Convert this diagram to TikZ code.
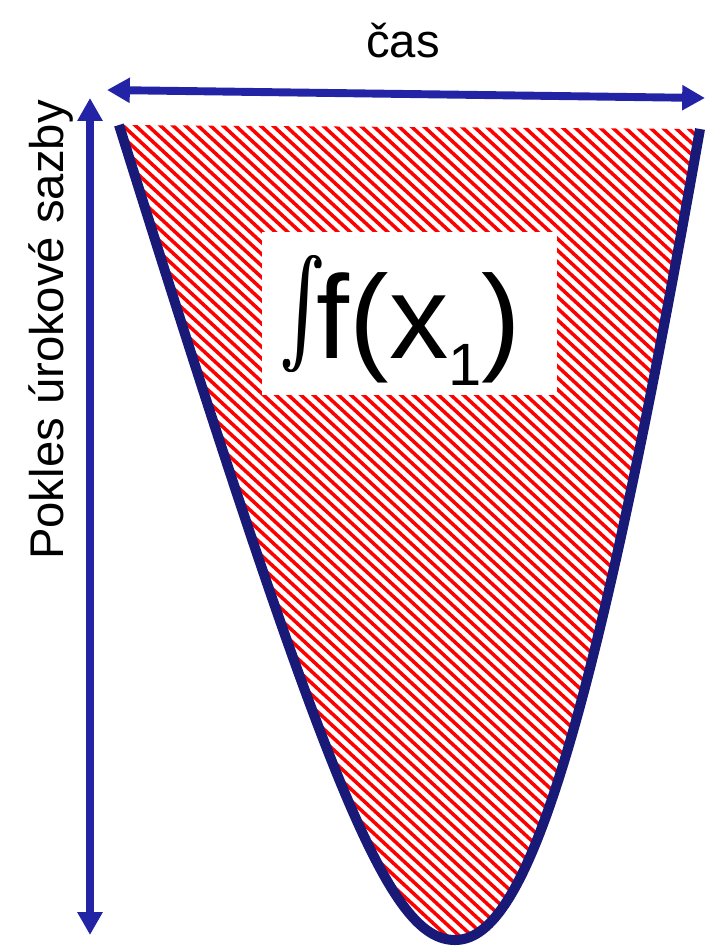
\documentclass[tikz,border=0pt]{standalone}
\usepackage{fontspec}
\usepackage{graphicx}
\setmainfont{Liberation Sans}
\usetikzlibrary{arrows.meta}
\definecolor{carrow}{RGB}{35,35,165}
\definecolor{ccurve}{RGB}{25,25,120}
\definecolor{chatch}{RGB}{255,0,0}
\newcommand{\bigint}{\raisebox{-12.5pt}{\scalebox{3.8}[6.0]{$\int$}}}

\begin{document}
\begin{tikzpicture}[x=0.02cm,y=-0.02cm,>={Triangle[length=13pt,width=13.6pt]}]
\useasboundingbox (0,0) rectangle (707,949);
% ===================== axes =====================
\coordinate (tleft) at (107,90);
\coordinate (tright) at (705,98);
\coordinate (rtop) at (90,98);
\coordinate (rbot) at (90,935);
\draw[<->,carrow,line width=4.5pt] (tleft) -- (tright);
\draw[<->,carrow,line width=4.5pt] (rtop) -- (rbot);
\node[anchor=base,inner sep=0pt,font=\fontsize{26.9}{30}\selectfont] (tlabel) at (403,58) {čas};
\node[rotate=90,anchor=base,inner sep=0pt,font=\fontsize{26.9}{30}\selectfont] (rlabel) at (63,330) {Pokles úrokové sazby};
% ===================== hatched area under the curve =====================
\begin{scope}
  \clip (119,125) .. controls (330,800) and (390,940) .. (455,940)
        .. controls (520,940) and (585,780) .. (700,129) -- cycle;
  \foreach \c in {-1100,-1087.5,...,560}
    \draw[chatch,line width=2pt] (\c,0) -- (\c+1100,1020);
\end{scope}
\draw[ccurve,line width=5.7pt] (119,125) .. controls (330,800) and (390,940) .. (455,940)
      .. controls (520,940) and (585,780) .. (700,129);
% ===================== label =====================
\node[fill=white,inner sep=0pt,minimum width=5.92cm,minimum height=3.26cm] (fbox) at (409.5,313.5) {};
\node[anchor=base west,inner sep=0pt,font=\fontsize{67.5}{70}\selectfont] (flabel) at (279,358)
  {\rlap{\bigint}\kern1.4pt\bigint\kern-5.5pt f(x\raisebox{-15.9pt}{\fontsize{34}{36}\selectfont 1})};
\end{tikzpicture}
\end{document}
